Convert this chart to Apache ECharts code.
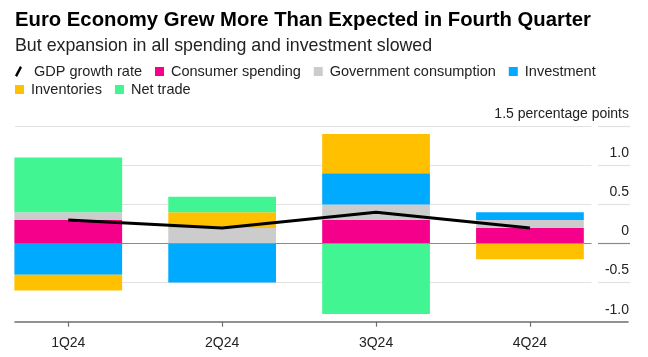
<!DOCTYPE html>
<html><head><meta charset="utf-8">
<script src="https://cdn.jsdelivr.net/npm/echarts@6/dist/echarts.min.js"></script>
<style>html,body{margin:0;padding:0;background:#fff}#c{width:648px;height:357px}</style>
</head><body><div id="c"></div>
<script>
const titleText = 'Euro Economy Grew More Than Expected in Fourth Quarter';
const subtitleText = 'But expansion in all spending and investment slowed';
const categories = ['1Q24', '2Q24', '3Q24', '4Q24'];
const gdpGrowth = [0.3, 0.2, 0.4, 0.2];
const consumerSpending = [0.3, 0, 0.3, 0.2];
const governmentConsumption = [0.1, 0.2, 0.2, 0.1];
const investment = [-0.4, -0.5, 0.4, 0.1];
const inventories = [-0.2, 0.2, 0.5, -0.2];
const netTrade = [0.7, 0.2, -0.9, 0];
const yMin = -1, yMax = 1.5, yInterval = 0.5;
const unitLabel = 'percentage points';

const FONT = 'Liberation Sans, Arial, sans-serif';
const TOP = 126.3, H = 195.4;

const stackDefs = [
  ['Consumer spending', consumerSpending, '#f5008b'],
  ['Government consumption', governmentConsumption, '#cccccc'],
  ['Investment', investment, '#00aaff'],
  ['Inventories', inventories, '#ffc000'],
  ['Net trade', netTrade, '#40f592']
];

const yBase = { min: yMin, max: yMax, interval: yInterval, type: 'value' };
const gridColors = ['rgba(0,0,0,0)', '#e2e2e2', '#8a8a8a', '#e2e2e2', '#e2e2e2', '#e2e2e2'];
const legendText = { fontSize: 14.5, color: '#222', fontFamily: FONT, padding: [0, 0, 0, 2] };
const SQUARE = 'path://M0,0L9,0L9,9L0,9Z';
const SLASH = 'path://M0,9.5L5,0L7,1.5L2,11Z';

const chart = echarts.init(document.getElementById('c'), null, { renderer: 'canvas' });
chart.setOption({
  animation: false,
  backgroundColor: '#fff',
  textStyle: { fontFamily: FONT },
  title: [
    { text: titleText, left: 15, top: 10, padding: 0,
      textStyle: { fontSize: 20.3, fontWeight: 'bold', color: '#000', fontFamily: FONT } },
    { text: subtitleText, left: 15, top: 37, padding: 0,
      textStyle: { fontSize: 17.8, fontWeight: 'normal', color: '#222', fontFamily: FONT } }
  ],
  legend: [
    { left: 15, top: 64, padding: 0, itemGap: 13, itemWidth: 9, itemHeight: 11,
      symbolKeepAspect: true, textStyle: legendText,
      data: [
        { name: 'GDP growth rate', icon: SLASH,
          itemStyle: { color: '#000' }, textStyle: { padding: [0, 0, 0, 6] } },
        { name: 'Consumer spending', icon: SQUARE },
        { name: 'Government consumption', icon: SQUARE },
        { name: 'Investment', icon: SQUARE }
      ] },
    { left: 15, top: 82, padding: 0, itemGap: 13, itemWidth: 9, itemHeight: 11,
      symbolKeepAspect: true, textStyle: legendText,
      data: [
        { name: 'Inventories', icon: SQUARE },
        { name: 'Net trade', icon: SQUARE }
      ] }
  ],
  grid: [
    { left: 15, top: TOP, width: 576.5, height: H, outerBoundsMode: 'none' },
    { left: 598, top: TOP, width: 32, height: H, outerBoundsMode: 'none' },
    { left: 15, top: TOP, width: 613, height: H, outerBoundsMode: 'none' },
    { left: -8.7, top: TOP, width: 615.6, height: H, outerBoundsMode: 'none' }
  ],
  xAxis: [
    { gridIndex: 0, type: 'value', show: false },
    { gridIndex: 1, type: 'value', show: false },
    { gridIndex: 2, type: 'value', min: 0, max: 1, position: 'bottom',
      axisLine: { show: true, onZero: false, lineStyle: { color: '#6e6e6e', width: 1.6 } },
      axisTick: { show: false }, axisLabel: { show: false }, splitLine: { show: false } },
    { gridIndex: 3, type: 'category', data: categories, position: 'bottom',
      axisLine: { show: false, onZero: false },
      axisTick: { show: true, alignWithLabel: true, length: 5, lineStyle: { color: '#6e6e6e', width: 1.2 } },
      axisLabel: { fontSize: 14, color: '#222', margin: 14, fontFamily: FONT },
      splitLine: { show: false } }
  ],
  yAxis: [
    Object.assign({ gridIndex: 0, axisLine: { show: false }, axisTick: { show: false },
      axisLabel: { show: false },
      splitLine: { show: true, lineStyle: { color: gridColors, width: 1.2 } } }, yBase),
    Object.assign({ gridIndex: 1, position: 'right', axisLine: { show: false }, axisTick: { show: false },
      axisLabel: { inside: true, margin: 1, fontSize: 14, color: '#222', fontFamily: FONT,
        verticalAlign: 'bottom', align: 'right', padding: [0, 0, 5, 0],
        formatter: v => v === yMax ? yMax.toFixed(1) + ' ' + unitLabel : (v === 0 ? '0' : v.toFixed(1)) },
      splitLine: { show: true, lineStyle: { color: gridColors, width: 1.2 } } }, yBase),
    Object.assign({ gridIndex: 2, show: false }, yBase),
    Object.assign({ gridIndex: 3, show: false }, yBase)
  ],
  series: stackDefs.map(([name, data, color]) => ({
    name, type: 'bar', stack: 'total', xAxisIndex: 3, yAxisIndex: 3,
    data, barWidth: '70%', itemStyle: { color }
  })).concat([{
    name: 'GDP growth rate', type: 'line', xAxisIndex: 3, yAxisIndex: 3,
    data: gdpGrowth, symbol: 'none', z: 5,
    lineStyle: { color: '#000', width: 3 }, itemStyle: { color: '#000' }
  }])
});
</script>
</body></html>
